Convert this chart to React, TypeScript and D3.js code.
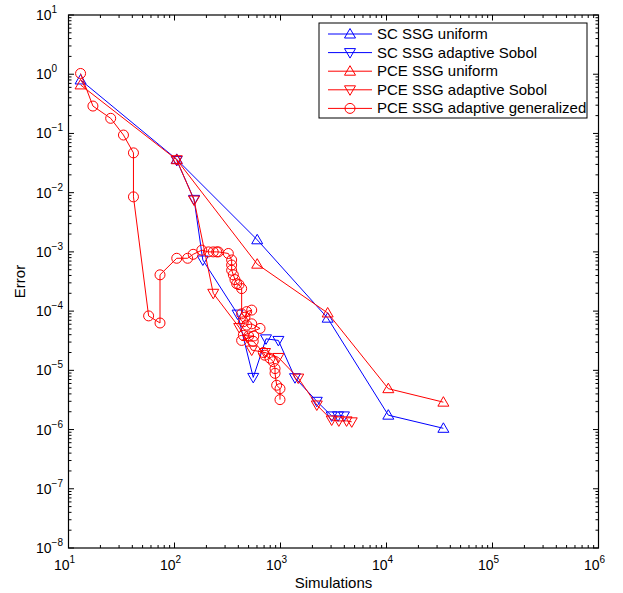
import React from "react";
import * as d3 from "d3";

// number of simulations / error values
const uniformSims = [13, 105, 603, 2786, 10400, 34400];
const scUniformErr = [0.8, 0.0365, 0.0016, 7.6e-5, 1.75e-6, 1.05e-6];
const pceUniformErr = [0.66, 0.036, 6.2e-4, 9.3e-5, 4.9e-6, 2.9e-6];

const scSobolSims = [105, 153, 185, 394, 553, 730, 955, 1370, 2200, 3040, 3490, 3970];
const scSobolErr = [0.035, 0.0077, 7.3e-4, 8.9e-5, 7.6e-6, 3.4e-5, 3.2e-5, 7.5e-6, 3.0e-6, 1.7e-6, 1.7e-6, 1.7e-6];

const pceSobolSims = [105, 153, 232, 408, 535, 714, 955, 1470, 2200, 3040, 3550, 4200, 4700];
const pceSobolErr = [0.036, 0.0075, 2.0e-4, 5.3e-5, 2.2e-5, 2.0e-5, 1.65e-5, 7.4e-6, 2.6e-6, 1.45e-6, 1.4e-6, 1.4e-6, 1.35e-6];

const genSims = [13, 17, 25, 33, 41, 41, 57, 73, 73, 105, 133, 150, 181, 209, 232, 250, 259, 322, 346, 346, 346, 359, 372, 386, 406, 430, 430, 462, 480, 535, 446, 480, 535, 641, 446, 500, 560, 430, 553, 689, 710, 795, 855, 888, 888, 920, 989, 989];
const genErr = [1.03, 0.29, 0.18, 0.094, 0.047, 0.0085, 8.3e-5, 6.3e-5, 4.1e-4, 7.8e-4, 7.8e-4, 9.1e-4, 1.07e-3, 1.0e-3, 1.0e-3, 1.0e-3, 1.0e-3, 9.4e-4, 7.3e-4, 6.0e-4, 4.9e-4, 4.1e-4, 3.4e-4, 2.9e-4, 2.8e-4, 2.4e-4, 9.0e-5, 7.9e-5, 9.8e-5, 1.04e-4, 6.6e-5, 5.8e-5, 6.1e-5, 5.1e-5, 3.9e-5, 3.8e-5, 3.8e-5, 3.2e-5, 3.1e-5, 2.0e-5, 1.8e-5, 1.6e-5, 1.4e-5, 1.07e-5, 8.9e-6, 5.6e-6, 4.9e-6, 3.2e-6];

const xExponents = [1, 2, 3, 4, 5, 6];
const yExponents = [1, 0, -1, -2, -3, -4, -5, -6, -7, -8];

const seriesNames = [
  "SC SSG uniform",
  "SC SSG adaptive Sobol",
  "PCE SSG uniform",
  "PCE SSG adaptive Sobol",
  "PCE SSG adaptive generalized",
];

type Marker = "up" | "down" | "circle";

const series: { name: string; xs: number[]; ys: number[]; color: string; marker: Marker }[] = [
  { name: seriesNames[0], xs: uniformSims, ys: scUniformErr, color: "#0000ff", marker: "up" },
  { name: seriesNames[1], xs: scSobolSims, ys: scSobolErr, color: "#0000ff", marker: "down" },
  { name: seriesNames[2], xs: uniformSims, ys: pceUniformErr, color: "#ff0000", marker: "up" },
  { name: seriesNames[3], xs: pceSobolSims, ys: pceSobolErr, color: "#ff0000", marker: "down" },
  { name: seriesNames[4], xs: genSims, ys: genErr, color: "#ff0000", marker: "circle" },
];

const left = 68.5;
const right = 598.5;
const top = 15;
const bottom = 548;

function MarkerShape({ type, x, y, color }: { type: Marker; x: number; y: number; color: string }) {
  if (type === "circle") {
    return <circle cx={x} cy={y} r={5} fill="none" stroke={color} strokeWidth={1} />;
  }
  const s = type === "up" ? 1 : -1;
  const pts = [
    [x, y - 5.5 * s],
    [x + 5.5, y + 4 * s],
    [x - 5.5, y + 4 * s],
  ];
  return <polygon points={pts.map((p) => p.join(",")).join(" ")} fill="none" stroke={color} strokeWidth={1} />;
}

export default function App() {
  const x = d3.scaleLog().domain([1e1, 1e6]).range([left, right]);
  const y = d3.scaleLog().domain([1e-8, 1e1]).range([bottom, top]);

  const line = d3
    .line<[number, number]>()
    .x((d) => x(d[0]))
    .y((d) => y(d[1]));

  // minor ticks 2..9 in each decade
  const xMinor: number[] = [];
  for (let e = 1; e < 6; e++) for (let m = 2; m <= 9; m++) xMinor.push(m * Math.pow(10, e));
  const yMinor: number[] = [];
  for (let e = -8; e < 1; e++) for (let m = 2; m <= 9; m++) yMinor.push(m * Math.pow(10, e));

  const font = "'Liberation Sans', Arial, Helvetica, sans-serif";
  const legX = 319;
  const legY = 23;
  const rowH = 18.6;

  return (
    <svg
      width={623}
      height={593}
      style={{ position: "absolute", left: 0, top: 0, background: "#fff" }}
      fontFamily={font}
    >
      <rect x={0} y={0} width={623} height={593} fill="#fff" />
      <g clipPath="url(#plotclip)">
        <defs>
          <clipPath id="plotclip">
            <rect x={left} y={top} width={right - left} height={bottom - top} />
          </clipPath>
        </defs>
        {series.map((s) => (
          <g key={s.name}>
            <path
              d={line(s.xs.map((v, i) => [v, s.ys[i]] as [number, number])) || ""}
              fill="none"
              stroke={s.color}
              strokeWidth={1}
            />
            {s.xs.map((v, i) => (
              <MarkerShape key={i} type={s.marker} x={x(v)} y={y(s.ys[i])} color={s.color} />
            ))}
          </g>
        ))}
      </g>

      {/* axis frame and ticks */}
      <g stroke="#000" strokeWidth={1} fill="none">
        {xMinor.map((v) => (
          <g key={"xm" + v}>
            <line x1={x(v)} x2={x(v)} y1={bottom} y2={bottom - 3} />
            <line x1={x(v)} x2={x(v)} y1={top} y2={top + 3} />
          </g>
        ))}
        {xExponents.map((e) => (
          <g key={"xM" + e}>
            <line x1={x(Math.pow(10, e))} x2={x(Math.pow(10, e))} y1={bottom} y2={bottom - 5.5} />
            <line x1={x(Math.pow(10, e))} x2={x(Math.pow(10, e))} y1={top} y2={top + 5.5} />
          </g>
        ))}
        {yMinor.map((v) => (
          <g key={"ym" + v}>
            <line x1={left} x2={left + 3} y1={y(v)} y2={y(v)} />
            <line x1={right} x2={right - 3} y1={y(v)} y2={y(v)} />
          </g>
        ))}
        {yExponents.map((e) => (
          <g key={"yM" + e}>
            <line x1={left} x2={left + 5.5} y1={y(Math.pow(10, e))} y2={y(Math.pow(10, e))} />
            <line x1={right} x2={right - 5.5} y1={y(Math.pow(10, e))} y2={y(Math.pow(10, e))} />
          </g>
        ))}
        <rect x={left} y={top} width={right - left} height={bottom - top} strokeWidth={1.2} />
      </g>

      {/* tick labels */}
      {xExponents.map((e) => (
        <text key={"xl" + e} x={x(Math.pow(10, e)) - 4} y={570} fontSize={14} textAnchor="middle">
          10
          <tspan fontSize={10} dy={-7}>
            {e}
          </tspan>
        </text>
      ))}
      {yExponents.map((e) => (
        <text key={"yl" + e} x={36} y={y(Math.pow(10, e)) + 5} fontSize={14}>
          10
          <tspan fontSize={10} dy={-7}>
            {e < 0 ? "\u2212" + -e : e}
          </tspan>
        </text>
      ))}

      {/* axis titles */}
      <text x={(left + right) / 2} y={588} fontSize={15} textAnchor="middle">
        Simulations
      </text>
      <text
        transform={`translate(25, ${(top + bottom) / 2}) rotate(-90)`}
        fontSize={15}
        textAnchor="middle"
      >
        Error
      </text>

      {/* legend */}
      <rect x={legX} y={legY} width={268} height={95} fill="#fff" stroke="#000" strokeWidth={1} />
      {series.map((s, i) => {
        const ry = legY + 11 + i * rowH;
        return (
          <g key={"leg" + s.name}>
            <line x1={legX + 9} x2={legX + 53} y1={ry} y2={ry} stroke={s.color} strokeWidth={1} />
            <MarkerShape type={s.marker} x={legX + 31} y={ry} color={s.color} />
            <text x={legX + 58} y={ry + 5} fontSize={15}>
              {s.name}
            </text>
          </g>
        );
      })}
    </svg>
  );
}
